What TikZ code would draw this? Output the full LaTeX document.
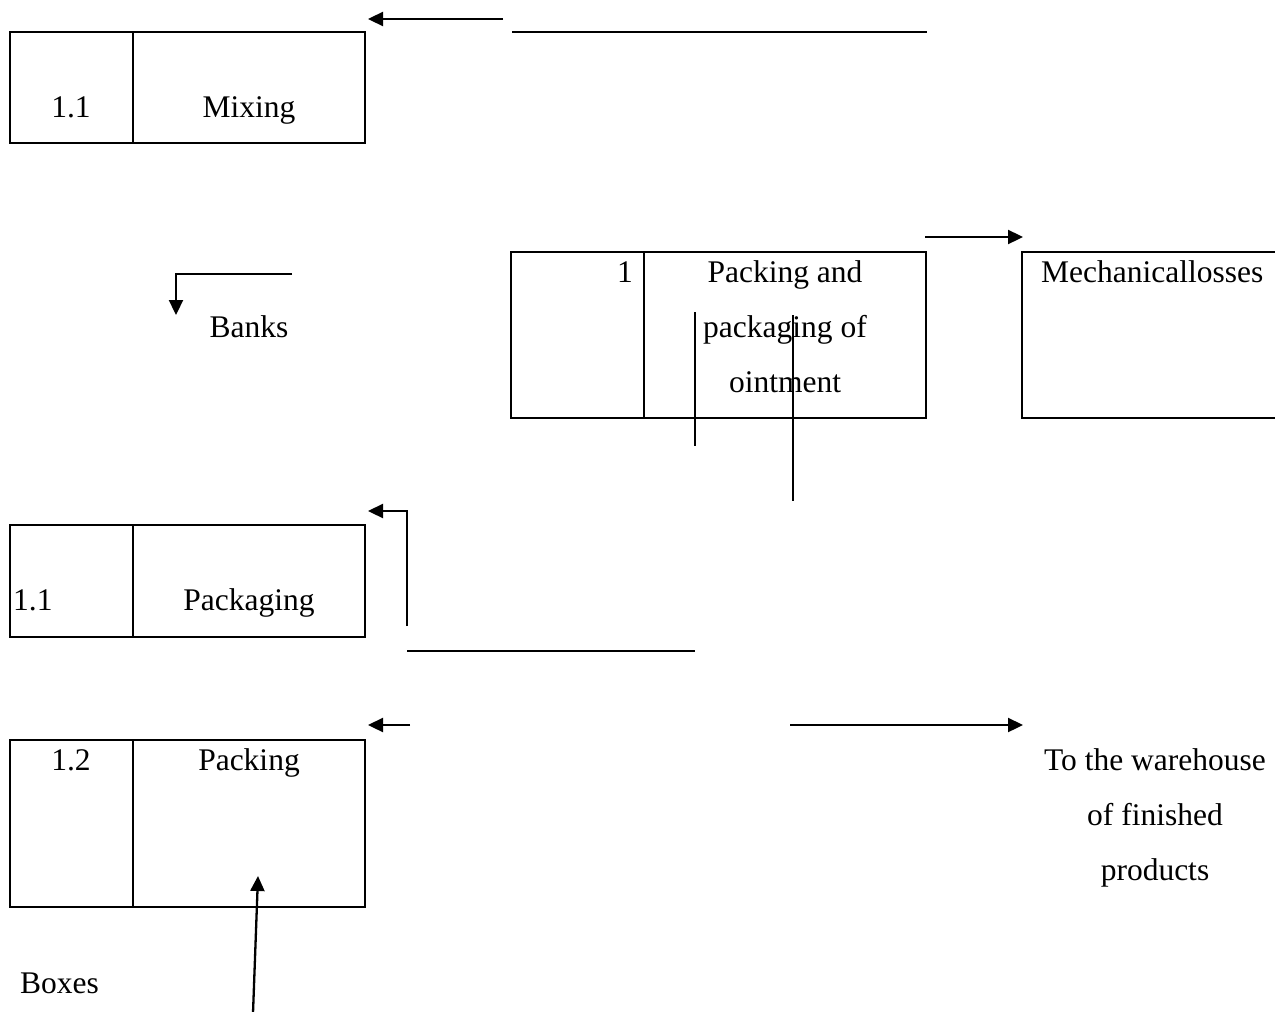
\documentclass[tikz,border=0pt]{standalone}
\usepackage{fontspec}
\setmainfont{Liberation Serif}
\usetikzlibrary{arrows.meta}
\begin{document}
\begin{tikzpicture}[x=1pt,y=-1pt]
\tikzset{
 box/.style={draw, line width=2.5pt, inner sep=0pt, outer sep=0pt, anchor=north west},
 divider/.style={line width=2.2pt},
 lbl/.style={inner sep=0pt, anchor=base, font=\fontsize{31.5}{37}\selectfont},
 flow/.style={line width=2.3pt, -{Triangle[length=15pt,width=14pt]}},
 plainline/.style={line width=1.8pt},
 thinline/.style={line width=1.4pt}
}
\useasboundingbox (0,0) rectangle (1275,1012);
% ---- Mixing box
\node[box, minimum width=355pt, minimum height=111pt] (mix) at (10,32) {};
\draw[divider] (133,32) -- (133,143);
\node[lbl] (mixn) at (71,117) {1.1};
\node[lbl] (mixt) at (249,117) {Mixing};
% top arrow and line
\coordinate (ta1) at (503,19); \coordinate (ta2) at (368,19);
\draw[flow] (ta1) -- (ta2);
\coordinate (tl1) at (512,32); \coordinate (tl2) at (927,32);
\draw[plainline] (tl1) -- (tl2);
% ---- Banks
\coordinate (bk1) at (292,274); \coordinate (bk2) at (176,274); \coordinate (bk3) at (176,315);
\draw[flow] (bk1) -- (bk2) -- (bk3);
\node[lbl] (banks) at (249,337) {Banks};
% ---- Packing and packaging box
\node[box, minimum width=415pt, minimum height=166pt] (pp) at (511,252) {};
\draw[divider] (644,252) -- (644,418);
\node[lbl, anchor=base east] (ppn) at (633,282) {1};
\node[lbl] (pp1) at (785,282) {Packing and};
\node[lbl] (pp2) at (785,337) {packaging of};
\node[lbl] (pp3) at (785,392) {ointment};
\coordinate (v1a) at (695,312); \coordinate (v1b) at (695,446);
\draw[thinline] (v1a) -- (v1b);
\coordinate (v2a) at (793,315); \coordinate (v2b) at (793,501);
\draw[thinline] (v2a) -- (v2b);
% arrow to mechanical losses
\coordinate (ma1) at (925,237); \coordinate (ma2) at (1023,237);
\draw[flow] (ma1) -- (ma2);
\node[box, minimum width=270pt, minimum height=166pt] (mech) at (1022,252) {};
\node[lbl, anchor=base west] (mecht) at (1041,282) {Mechanicallosses};
% ---- Packaging box
\node[box, minimum width=355pt, minimum height=112pt] (pkg) at (10,525) {};
\draw[divider] (133,525) -- (133,637);
\node[lbl, anchor=base west] (pkgn) at (13,610) {1.1};
\node[lbl] (pkgt) at (249,610) {Packaging};
\coordinate (pa1) at (407,626); \coordinate (pa2) at (407,511); \coordinate (pa3) at (368,511);
\draw[flow] (pa1) -- (pa2) -- (pa3);
\coordinate (pl1) at (407,651); \coordinate (pl2) at (695,651);
\draw[plainline] (pl1) -- (pl2);
% ---- Packing box
\coordinate (ka1) at (410,725); \coordinate (ka2) at (368,725);
\draw[flow] (ka1) -- (ka2);
\node[box, minimum width=355pt, minimum height=167pt] (pk) at (10,740) {};
\draw[divider] (133,740) -- (133,907);
\node[lbl] (pkn) at (71,770) {1.2};
\node[lbl] (pkt) at (249,770) {Packing};
\coordinate (bx1) at (253,1013); \coordinate (bx2) at (258,876);
\draw[flow] (bx1) -- (bx2);
\node[lbl, anchor=base west] (boxes) at (20,993) {Boxes};
% ---- warehouse
\coordinate (wa1) at (790,725); \coordinate (wa2) at (1023,725);
\draw[flow] (wa1) -- (wa2);
\node[lbl] (w1) at (1155,770) {To the warehouse};
\node[lbl] (w2) at (1155,825) {of finished};
\node[lbl] (w3) at (1155,880) {products};
\end{tikzpicture}
\end{document}
